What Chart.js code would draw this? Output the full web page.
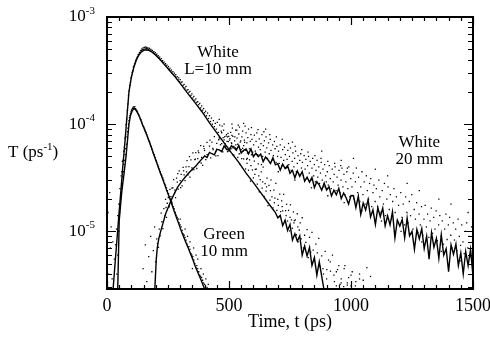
<!DOCTYPE html>
<html><head><meta charset="utf-8">
<script src="https://cdn.jsdelivr.net/npm/chart.js@4.4.0/dist/chart.umd.min.js"></script>
<style>html,body{margin:0;padding:0;background:#fff}</style>
</head><body>
<canvas id="c" width="490" height="348"></canvas>
<script>
// ---- axis ticks ----
const xTickValues = [0, 500, 1000, 1500];
const yTickValues = [1e-5, 1e-4, 1e-3];

// ---- White L=10 mm : solid curve [t (ps), T (ps^-1)] ----
const white10Line = [[25,2.9e-6],[33,5.0e-6],[41,8.5e-6],[49,1.45e-5],[57,2.4e-5],[65,4.1e-5],[74,7.0e-5],[82,1.2e-4],[90,2.0e-4],[100,2.75e-4],[110,3.4e-4],[120,3.95e-4],[130,4.4e-4],[140,4.7e-4],[150,4.88e-4],[160,4.95e-4],[170,4.9e-4],[185,4.7e-4],[200,4.4e-4],[220,3.95e-4],[240,3.5e-4],[260,3.1e-4],[280,2.75e-4],[300,2.4e-4],[330,1.95e-4],[360,1.6e-4],[390,1.3e-4],[420,1.03e-4],[450,8.3e-5],[480,6.7e-5],[510,5.4e-5],[540,4.4e-5],[570,3.5e-5],[600,2.85e-5],[630,2.3e-5],[660,1.85e-5],[690,1.5e-5],[700,1.34e-5],[710,1.41e-5],[720,1.13e-5],[730,1.27e-5],[740,1.02e-5],[750,1.16e-5],[760,8.3e-6],[770,9.5e-6],[780,8.1e-6],[790,9.1e-6],[800,6.0e-6],[810,7.3e-6],[820,5.9e-6],[830,7.1e-6],[840,4.8e-6],[850,5.7e-6],[860,3.9e-6],[870,5.2e-6],[880,3.8e-6],[890,2.8e-6]];

// ---- White L=10 mm : dots ----
const white10Dots = [[4,1.5e-5],[7,4e-6],[11,2.3e-5],[14,7e-6],[17,1.1e-5],[21,3.6e-6],[24,8e-6],[30,5.5e-6],[35,7.5e-6],[39,1.05e-5],[44,1.4e-5],[48,1.8e-5],[53,2.5e-5],
[58,3.3e-5],[61,3.6e-5],[63,4.5e-5],[66,4.6e-5],[68,5.6e-5],[71,6.1e-5],[73,7.4e-5],[76,8.0e-5],[78,9.9e-5],[81,1.12e-4],[83,1.35e-4],[86,1.55e-4],[88,1.85e-4],[91,2.05e-4],[93,2.3e-4],[96,2.45e-4],[98,2.7e-4],[101,2.85e-4],[103,3.05e-4],[106,3.15e-4],[108,3.4e-4],[111,3.5e-4],[113,3.65e-4],[116,3.8e-4],[118,3.95e-4],[121,4.05e-4],[123,4.2e-4],[126,4.3e-4],[128,4.45e-4],[131,4.5e-4],[133,4.65e-4],[136,4.7e-4],[138,4.85e-4],[141,4.9e-4],[143,5.05e-4],[146,4.95e-4],[148,5.15e-4],[151,5.0e-4],[153,5.2e-4],[156,5.05e-4],[158,5.25e-4],[161,5.1e-4],[163,5.2e-4],[166,5.05e-4],[168,5.15e-4],[171,4.98e-4],[174,5.1e-4],[177,4.9e-4],[180,4.98e-4],[183,4.8e-4],[186,4.88e-4],[189,4.68e-4],[192,4.75e-4],[195,4.55e-4],[198,4.65e-4],[201,4.45e-4],[204,4.5e-4],[207,4.3e-4],[210,4.35e-4],[213,4.15e-4],[216,4.22e-4],[219,4.0e-4],[222,4.08e-4],[225,3.85e-4],[228,3.92e-4],[231,3.72e-4],[234,3.8e-4],[237,3.6e-4],[240,3.68e-4],[243,3.48e-4],[246,3.55e-4],[249,3.35e-4],[252,3.45e-4],[255,3.22e-4],[258,3.32e-4],[261,3.12e-4],[264,3.2e-4],[267,3.0e-4],[270,3.1e-4],[273,2.9e-4],[276,3.0e-4],[279,2.8e-4],[282,2.9e-4],[285,2.7e-4],[288,2.78e-4],[291,2.6e-4],[294,2.7e-4],[297,2.5e-4],[300,2.6e-4],[304,2.45e-4],[308,2.48e-4],[312,2.3e-4],[316,2.35e-4],[320,2.18e-4],[324,2.25e-4],[328,2.08e-4],[332,2.1e-4],[336,1.98e-4],[340,2.02e-4],[344,1.86e-4],[348,1.92e-4],[352,1.76e-4],[356,1.82e-4],[360,1.68e-4],[364,1.72e-4],[368,1.6e-4],[372,1.62e-4],[376,1.52e-4],[380,1.56e-4],[384,1.42e-4],[388,1.48e-4],[392,1.35e-4],[396,1.4e-4],[400,1.28e-4],[404,1.32e-4],[408,1.2e-4],[412,1.27e-4],[416,1.13e-4],[420,1.2e-4],[424,1.06e-4],[428,1.14e-4],[432,1.0e-4],[436,1.08e-4],[440,9.5e-5],[444,1.02e-4],[448,9.0e-5],
[452,1.04e-4],[456,8.4e-5],[460,1.11e-4],[464,7.35e-5],[468,8.6e-5],[472,9.6e-5],[476,7.5e-5],[480,1.0e-4],[484,6.6e-5],[488,7.75e-5],[492,6.9e-5],[496,8.2e-5],[500,5.6e-5],[504,7.35e-5],[508,5.9e-5],[512,7.85e-5],[516,6.0e-5],[520,5.15e-5],[524,7.6e-5],[528,6.4e-5],[532,8.8e-5],[536,4.9e-5],[540,6.25e-5],[544,4.24e-5],[548,7.0e-5],[552,4.77e-5],[556,5.96e-5],[560,4.75e-5],[564,6.77e-5],[568,3.82e-5],[572,4.7e-5],[576,5.38e-5],[580,3.72e-5],[584,4.65e-5],[588,2.94e-5],[592,5.19e-5],[596,3.74e-5],[600,3.16e-5],[604,4.53e-5],[608,3.78e-5],[612,3.81e-5],[616,2.76e-5],[620,4.27e-5],[624,2.34e-5],[628,3.04e-5],[632,3.59e-5],[636,2.53e-5],[640,3.98e-5],[644,2.12e-5],[648,2.79e-5],[652,2.37e-5],[656,3.14e-5],[660,1.74e-5],[664,2.68e-5],[668,1.96e-5],[672,3.03e-5],[676,2.1e-5],[680,1.66e-5],[684,2.42e-5],[688,2.04e-5],[692,2.81e-5],[696,1.57e-5],[700,1.99e-5],[704,1.36e-5],[708,2.23e-5],[712,1.53e-5],[716,1.93e-5],[720,1.55e-5],[724,2.21e-5],[728,1.25e-5],[732,1.56e-5],[736,1.79e-5],[740,1.25e-5],[744,1.57e-5],[748,1.01e-5],[752,1.77e-5],[756,1.28e-5],[760,1.07e-5],[764,1.52e-5],[768,1.26e-5],[772,1.28e-5],[776,9.3e-6],[780,1.46e-5],[784,8.0e-6],[788,1.03e-5],[792,1.2e-5],[796,8.5e-6],[800,1.34e-5],[805,7.0e-6],[810,9.2e-6],[815,7.9e-6],[820,1.04e-5],[825,5.7e-6],[830,8.8e-6],[835,6.4e-6],[840,9.8e-6],[845,6.7e-6],[850,5.3e-6],[856,7.6e-6],[862,6.3e-6],[868,8.6e-6],[874,4.7e-6],[880,5.9e-6],[887,4.0e-6],[894,6.5e-6],[901,4.4e-6],[908,5.4e-6],[916,4.25e-6],[924,6.0e-6],[932,3.4e-6],[940,4.2e-6],[950,4.8e-6],[960,3.6e-6],[972,4.5e-6],[985,3.3e-6],[1000,3.9e-6],[1018,3.1e-6],[1035,3.6e-6],
[462,9.8e-5],[478,8.8e-5],[494,7.6e-5],[510,6.7e-5],[526,6.0e-5],[542,5.3e-5],[558,5.6e-5],[574,4.3e-5],[590,4.1e-5],[606,3.4e-5],[622,3.3e-5],[638,2.9e-5],[654,2.6e-5],[670,2.4e-5],[686,1.85e-5],[702,1.75e-5],[718,1.7e-5],[734,1.4e-5],[750,1.35e-5],[766,1.2e-5],[782,1.1e-5],
[885,4.5e-6],[900,3.6e-6],[915,5.2e-6],[930,3.9e-6],[945,4.4e-6],[960,3.3e-6],[975,4.8e-6],[990,3.7e-6],[1005,4.2e-6],[1020,3.4e-6],[1035,4.0e-6],[1050,3.5e-6],[1065,4.6e-6],[1080,3.8e-6],[940,3.1e-6],[955,3.2e-6],[970,3.05e-6],[985,3.15e-6],[1000,3.1e-6]];

// ---- Green 10 mm : solid curve ----
const green10Line = [[44,2.9e-6],[47,6.0e-6],[50,1.25e-5],[55,1.7e-5],[61,2.4e-5],[70,3.5e-5],[78,5.0e-5],[85,7.5e-5],[90,1.0e-4],[96,1.2e-4],[103,1.33e-4],[111,1.4e-4],[118,1.36e-4],[126,1.27e-4],[135,1.15e-4],[145,1.0e-4],[155,8.8e-5],[165,7.7e-5],[176,6.6e-5],[188,5.5e-5],[200,4.6e-5],[215,3.7e-5],[230,3.0e-5],[245,2.4e-5],[260,1.95e-5],[275,1.55e-5],[290,1.25e-5],[305,1.0e-5],[320,8.2e-6],[335,6.8e-6],[350,5.6e-6],[362,4.7e-6],[375,4.0e-6],[388,3.4e-6],[400,2.9e-6]];

// ---- Green 10 mm : dots ----
const green10Dots = [[40,4e-6],[44,6e-6],[48,1.0e-5],[52,1.5e-5],[56,2.0e-5],[60,2.5e-5],[65,3.2e-5],[70,4.2e-5],[75,5.2e-5],[80,6.5e-5],[84,8.5e-5],[88,1.0e-4],[92,1.15e-4],[96,1.25e-4],[100,1.35e-4],[104,1.4e-4],[108,1.45e-4],[112,1.42e-4],[116,1.4e-4],[120,1.35e-4],[125,1.3e-4],[130,1.22e-4],[136,1.12e-4],[142,1.05e-4],[148,9.6e-5],[154,9e-5],[160,8.4e-5],[166,7.6e-5],[172,7.0e-5],[178,6.5e-5],[184,5.9e-5],[190,5.4e-5],[197,4.9e-5],[204,4.4e-5],[211,4.0e-5],[218,3.6e-5],[225,3.3e-5],[232,3.0e-5],[240,2.7e-5],[248,2.4e-5],[256,2.1e-5],[264,1.9e-5],[272,1.7e-5],[280,1.5e-5],[288,1.35e-5],[296,1.2e-5],[304,1.1e-5],[312,9.5e-6],[320,8.8e-6],[328,7.6e-6],[336,7.2e-6],[344,6.2e-6],[352,5.8e-6],[360,5.0e-6],[368,4.8e-6],[376,4.2e-6],[384,3.8e-6],[392,3.5e-6],[400,3.2e-6],[410,3.0e-6],
[62,2.7e-5],[67,3.6e-5],[72,4.6e-5],[77,5.9e-5],[82,7.6e-5],[86,9.2e-5],[90,1.08e-4],[94,1.2e-4],[98,1.3e-4],[102,1.36e-4],[106,1.42e-4],[110,1.39e-4],[114,1.46e-4],[118,1.38e-4],[123,1.33e-4],[128,1.25e-4],[133,1.18e-4],[139,1.1e-4],[145,1.0e-4],[151,9.4e-5],[157,8.6e-5],[163,8.0e-5],[169,7.3e-5],[175,6.8e-5],[181,6.2e-5],[187,5.6e-5],[194,5.2e-5],[201,4.6e-5],[208,4.2e-5],[215,3.8e-5],[222,3.4e-5],[229,3.15e-5],[236,2.8e-5],[244,2.55e-5],[252,2.25e-5],[260,2.0e-5],[268,1.8e-5],[276,1.62e-5],[284,1.42e-5],[292,1.3e-5],[300,1.15e-5],[308,1.02e-5],[316,9.2e-6],[324,8.3e-6],[332,7.2e-6],[340,6.8e-6],[348,6.0e-6],[356,5.4e-6],[364,4.6e-6],[372,4.5e-6],[380,3.9e-6],[388,3.7e-6],[396,3.3e-6],
[340,8e-6],[355,7e-6],[365,6e-6],[350,4.5e-6],[372,5.5e-6],[385,4.5e-6],[395,4e-6],[405,3.6e-6],[415,3.2e-6],[330,9e-6],[320,1.05e-5],[300,1.3e-5]];

// ---- White 20 mm : solid curve ----
const white20Line = [[196,2.9e-6],[199,4.0e-6],[202,5.5e-6],[206,7.0e-6],[212,8.5e-6],[220,1.0e-5],[230,1.2e-5],[240,1.45e-5],[252,1.7e-5],[265,2.0e-5],[278,2.3e-5],[290,2.6e-5],[305,2.9e-5],[320,3.2e-5],[335,3.5e-5],[350,3.8e-5],[365,4.1e-5],[380,4.5e-5],[390,4.75e-5],[400,5.05e-5],[410,4.9e-5],[420,5.46e-5],[430,5.3e-5],[440,5.17e-5],[450,5.82e-5],[460,5.76e-5],[470,5.55e-5],[480,6.26e-5],[490,5.81e-5],[500,5.7e-5],[510,6.28e-5],[520,6.07e-5],[530,5.72e-5],[540,6.32e-5],[550,5.38e-5],[560,5.7e-5],[570,5.88e-5],[580,5.28e-5],[590,5.89e-5],[600,4.98e-5],[610,5.35e-5],[620,4.98e-5],[630,5.27e-5],[640,4.47e-5],[650,4.94e-5],[660,4.64e-5],[670,4.3e-5],[680,4.86e-5],[690,4.18e-5],[700,4.28e-5],[710,3.73e-5],[720,4.24e-5],[730,3.86e-5],[740,4.1e-5],[750,3.48e-5],[760,3.71e-5],[770,3.16e-5],[780,3.66e-5],[790,3.26e-5],[800,3.61e-5],[810,2.94e-5],[820,3.2e-5],[830,2.88e-5],[840,3.18e-5],[850,2.57e-5],[860,2.91e-5],[870,2.7e-5],[880,2.42e-5],[890,2.82e-5],[900,2.43e-5],[910,2.6e-5],[920,2.14e-5],[930,2.42e-5],[940,2.19e-5],[950,2.52e-5],[960,2.02e-5],[970,2.28e-5],[980,2.06e-5],[990,1.8e-5],[1000,2.16e-5],[1010,2.15e-5],[1020,1.67e-5],[1030,2.13e-5],[1040,1.44e-5],[1050,1.84e-5],[1060,1.58e-5],[1070,1.98e-5],[1080,1.36e-5],[1090,1.59e-5],[1100,1.16e-5],[1110,1.66e-5],[1120,1.37e-5],[1130,1.65e-5],[1140,1.13e-5],[1150,1.4e-5],[1160,1.15e-5],[1170,1.52e-5],[1180,8.7e-6],[1190,1.27e-5],[1200,1.12e-5],[1210,1.29e-5],[1220,8.7e-6],[1230,1.33e-5],[1240,9.1e-6],[1250,1.0e-5],[1260,6.8e-6],[1270,1.04e-5],[1280,8.5e-6],[1290,1.06e-5],[1300,6.9e-6],[1310,9.0e-6],[1320,5.5e-6],[1330,9.7e-6],[1340,7.1e-6],[1350,8.6e-6],[1360,5.6e-6],[1370,9.3e-6],[1380,6.0e-6],[1390,6.9e-6],[1400,4.2e-6],[1410,7.5e-6],[1420,6.1e-6],[1430,7.6e-6],[1440,4.8e-6],[1450,6.3e-6],[1460,4.0e-6],[1470,6.5e-6],[1480,4.8e-6],[1490,6.8e-6],[1500,3.8e-6]];

// ---- White 20 mm : dots ----
const white20Dots = [[148,4.5e-6],[157,7.5e-6],[163,3.4e-6],[171,5.8e-6],[179,9e-6],[184,4.2e-6],[190,6.6e-6],[195,1.1e-5],[199,5.2e-6],
[204,8.5e-6],[207,7.7e-6],[211,7.1e-6],[214,1.05e-5],[218,9.1e-6],[222,1.48e-5],[225,1.23e-5],[229,1.06e-5],[233,1.63e-5],[236,1.39e-5],[240,1.99e-5],[244,1.35e-5],[247,1.83e-5],[251,2.07e-5],[255,1.72e-5],[258,2.46e-5],[262,2.11e-5],[266,1.86e-5],[270,2.54e-5],[273,3.04e-5],[277,2.29e-5],[281,2.06e-5],[285,3.14e-5],[288,2.88e-5],[292,2.48e-5],[296,3.67e-5],[300,2.97e-5],[304,3.4e-5],[308,2.66e-5],[312,3.95e-5],[316,3.37e-5],[320,2.98e-5],[324,4.0e-5],[328,4.57e-5],[332,3.37e-5],[336,4.01e-5],[340,3.2e-5],[344,4.64e-5],[348,3.91e-5],[352,5.41e-5],[356,3.76e-5],[360,4.68e-5],[364,5.44e-5],[368,3.86e-5],[372,4.77e-5],[376,5.44e-5],[380,4.46e-5],[384,6.32e-5],[388,4.89e-5],[392,4.12e-5],[396,6.22e-5],[400,5.68e-5],[405,4.68e-5],[410,6.77e-5],[415,5.22e-5],[420,6.24e-5],[425,4.86e-5],[430,6.79e-5],[435,5.8e-5],[440,7.65e-5],[445,5.55e-5],[450,6.61e-5],[455,5.09e-5],[460,7.47e-5],[465,6.43e-5],[470,8.32e-5],[475,5.53e-5],[480,7.14e-5],[485,6.24e-5],[490,8.0e-5],[494,5.54e-5],[497,6.88e-5],[499,7.68e-5],
[242,1.67e-5],[254,1.68e-5],[266,2.53e-5],[278,2.42e-5],[290,3.46e-5],[302,2.56e-5],[314,3.67e-5],[326,3.59e-5],[338,4.98e-5],[350,3.76e-5],[362,4.71e-5],[374,5.65e-5],[386,4.34e-5],[398,5.93e-5],[410,5.2e-5],[422,7.11e-5],[434,5.94e-5],[446,5.06e-5],[458,7.16e-5],[470,6.59e-5],[482,7.63e-5],[494,6.08e-5],
[502,7.1e-5],[505,6.0e-5],[507,8.4e-5],[511,6.6e-5],[514,9.2e-5],[516,7.7e-5],[520,6.2e-5],[523,7.0e-5],[527,8.8e-5],[530,5.9e-5],[533,7.4e-5],[536,6.5e-5],[540,8.1e-5],[543,9.4e-5],[546,6.8e-5],[550,5.8e-5],[553,7.6e-5],[556,8.6e-5],[560,6.3e-5],[563,7.1e-5],[567,5.7e-5],[570,8.3e-5],[573,6.7e-5],[577,7.5e-5],[580,9.0e-5],[584,5.9e-5],[587,6.9e-5],[590,8.0e-5],[594,7.2e-5],[597,5.5e-5],
[601,6.4e-5],[604,7.9e-5],[608,5.6e-5],[611,6.9e-5],[614,8.3e-5],[618,5.2e-5],[621,6.1e-5],[624,7.3e-5],[628,5.8e-5],[631,6.6e-5],[635,8.0e-5],[638,5.0e-5],[641,6.3e-5],[645,7.0e-5],[648,5.5e-5],[652,7.6e-5],[655,6.0e-5],[658,4.8e-5],[662,6.7e-5],[665,5.3e-5],[669,7.2e-5],[672,5.7e-5],[676,4.6e-5],[679,6.4e-5],[682,5.1e-5],[686,6.9e-5],[689,5.9e-5],[693,4.4e-5],[696,6.2e-5],[699,5.0e-5],
[703,5.6e-5],[706,4.3e-5],[710,6.4e-5],[713,4.9e-5],[717,4.1e-5],[720,5.8e-5],[724,4.6e-5],[727,6.1e-5],[731,5.2e-5],[734,3.9e-5],[738,4.7e-5],[741,5.7e-5],[745,4.2e-5],[748,5.0e-5],[752,6.0e-5],[755,3.7e-5],[759,4.5e-5],[762,5.4e-5],[766,4.0e-5],[769,4.8e-5],[773,5.6e-5],[776,3.6e-5],[780,4.3e-5],[783,5.1e-5],[787,3.4e-5],[790,4.6e-5],[794,5.3e-5],[797,3.9e-5],
[801,4.4e-5],[805,3.3e-5],[808,5.1e-5],[812,3.8e-5],[815,4.7e-5],[819,3.1e-5],[822,4.1e-5],[826,5.0e-5],[829,3.5e-5],[833,4.5e-5],[836,3.0e-5],[840,3.9e-5],[843,4.8e-5],[847,3.3e-5],[850,4.2e-5],[854,2.9e-5],[857,3.7e-5],[861,4.6e-5],[864,3.2e-5],[868,4.0e-5],[871,2.8e-5],[875,3.5e-5],[878,4.4e-5],[882,3.0e-5],[885,3.8e-5],[889,2.6e-5],[892,4.2e-5],[896,3.3e-5],[899,2.9e-5],
[903,3.6e-5],[907,2.7e-5],[911,4.1e-5],[915,3.1e-5],[919,2.5e-5],[923,3.8e-5],[927,2.9e-5],[931,3.4e-5],[935,4.0e-5],[939,2.4e-5],[943,3.2e-5],[947,2.7e-5],[951,3.7e-5],[955,2.3e-5],[959,3.0e-5],[963,3.9e-5],[967,2.6e-5],[971,3.4e-5],[975,2.2e-5],[979,2.9e-5],[983,3.6e-5],[987,2.5e-5],[991,4.0e-5],[995,2.1e-5],[999,3.1e-5],
[1004,2.6e-5],[1009,3.5e-5],[1013,2.0e-5],[1018,2.9e-5],[1022,3.9e-5],[1027,2.3e-5],[1031,3.2e-5],[1036,1.9e-5],[1040,2.6e-5],[1045,3.6e-5],[1049,2.2e-5],[1054,2.9e-5],[1058,1.8e-5],[1063,3.3e-5],[1067,2.4e-5],[1072,2.0e-5],[1076,2.8e-5],[1081,3.1e-5],[1085,1.7e-5],[1090,2.3e-5],[1094,2.7e-5],[1099,1.9e-5],
[1104,2.5e-5],[1109,1.7e-5],[1114,3.0e-5],[1118,2.1e-5],[1123,1.5e-5],[1128,2.4e-5],[1133,1.8e-5],[1137,2.8e-5],[1142,1.4e-5],[1147,2.0e-5],[1152,2.6e-5],[1157,1.6e-5],[1161,2.2e-5],[1166,1.3e-5],[1171,1.9e-5],[1176,2.5e-5],[1181,1.5e-5],[1186,2.1e-5],[1190,1.25e-5],[1195,1.75e-5],
[1204,2.3e-5],[1209,1.35e-5],[1214,1.8e-5],[1219,1.15e-5],[1224,2.1e-5],[1229,1.5e-5],[1234,1.2e-5],[1239,1.9e-5],[1244,1.4e-5],[1249,2.2e-5],[1254,1.05e-5],[1259,1.6e-5],[1264,1.3e-5],[1269,1.85e-5],[1274,9.8e-6],[1279,1.45e-5],[1284,1.15e-5],[1289,1.7e-5],[1294,9.2e-6],[1299,1.3e-5],
[1304,1.75e-5],[1309,1.1e-5],[1314,1.45e-5],[1319,8.8e-6],[1324,1.25e-5],[1329,1.65e-5],[1334,9.6e-6],[1339,1.35e-5],[1344,1.05e-5],[1349,1.55e-5],[1354,8.2e-6],[1359,1.15e-5],[1364,1.4e-5],[1369,9.0e-6],[1374,1.25e-5],[1379,7.6e-6],[1384,1.05e-5],[1389,1.45e-5],[1394,8.4e-6],[1399,1.15e-5],
[1404,1.35e-5],[1409,9.2e-6],[1414,7.0e-6],[1419,1.2e-5],[1424,8.3e-6],[1429,1.05e-5],[1434,6.6e-6],[1439,1.3e-5],[1444,9.0e-6],[1449,7.4e-6],[1454,1.15e-5],[1459,8.0e-6],[1464,6.2e-6],[1469,1.0e-5],[1474,1.2e-5],[1479,7.0e-6],[1484,9.0e-6],[1489,5.8e-6],[1494,1.1e-5],[1498,8.0e-6],
[1010,4.8e-5],[1150,3.3e-5],[1280,2.4e-5],[1410,1.8e-5],[1480,1.5e-5],[880,5.6e-5],[760,6.8e-5],[650,9.0e-5],[560,1.02e-4],[960,4.6e-5],[1230,2.8e-5],[1360,2.0e-5],[1100,3.8e-5],
[512,1.0e-4],[538,9.8e-5],[566,9.6e-5],[592,9.3e-5],[619,8.9e-5],[643,8.5e-5],[667,8.0e-5],[694,7.6e-5],[718,7.2e-5],[744,6.6e-5],[771,6.2e-5],[798,5.8e-5],[824,5.5e-5],[852,5.1e-5],[877,4.8e-5],[905,4.5e-5],[933,4.3e-5],[958,4.1e-5],[985,3.9e-5],
[515,5.2e-5],[575,4.8e-5],[633,4.2e-5],[702,3.6e-5],[770,3.0e-5],[838,2.55e-5],[905,2.15e-5],[972,1.85e-5],[1045,1.55e-5],[1125,1.25e-5],[1205,1.0e-5],[1290,8e-6],[1370,6.5e-6],[1450,5.3e-6]];

// ---- text labels ----
const curveLabels = [
  {lines:['White','L=10 mm'], t:455, v:4.7e-4},
  {lines:['White','20 mm'], t:1280, v:6.8e-5},
  {lines:['Green','10 mm'], t:480, v:9.4e-6}
];
const xTitle = 'Time, t (ps)';
const yTitle = ['T (ps', '-1', ')'];

const SERIF = '"Liberation Serif", "Times New Roman", serif';
const toXY = arr => arr.map(p => ({x:p[0], y:p[1]}));
const lineDs = (arr) => ({data: toXY(arr), showLine:true, pointRadius:0, borderColor:'#000', borderWidth:1.4, tension:0, fill:false});
const dotDs = (arr) => ({data: toXY(arr), showLine:false, pointRadius:0.9, pointBorderWidth:0, pointBackgroundColor:'#000', pointStyle:'rect'});

const decor = {
  id:'decor',
  afterDraw(chart){
    const {ctx, chartArea:a, scales:{x, y}} = chart;
    ctx.save();
    ctx.strokeStyle = '#000';
    ctx.lineWidth = 1.2;
    ctx.beginPath();
    for (let t = 0; t <= 1500; t += 50) {
      const px = Math.round(x.getPixelForValue(t)) + 0.5;
      const len = t % 500 === 0 ? 8 : 4;
      ctx.moveTo(px, a.bottom); ctx.lineTo(px, a.bottom - len);
      ctx.moveTo(px, a.top); ctx.lineTo(px, a.top + len);
    }
    for (let e = -6; e <= -3; e++) for (let m = 1; m <= 9; m++) {
      const v = m * Math.pow(10, e);
      if (v < y.min * 0.999 || v > y.max * 1.001) continue;
      const py = Math.round(y.getPixelForValue(v)) + 0.5;
      const len = m === 1 ? 9 : 5;
      ctx.moveTo(a.left, py); ctx.lineTo(a.left + len, py);
      ctx.moveTo(a.right, py); ctx.lineTo(a.right - len, py);
    }
    ctx.stroke();
    ctx.lineWidth = 2;
    ctx.strokeRect(a.left, a.top, a.right - a.left, a.bottom - a.top);

    ctx.fillStyle = '#000';
    ctx.textBaseline = 'middle';
    yTickValues.forEach(v => {
      const py = y.getPixelForValue(v);
      const exp = String(Math.round(Math.log10(v)));
      ctx.font = '11px ' + SERIF;
      const sw = ctx.measureText(exp).width;
      const right = a.left - 12;
      ctx.textAlign = 'left';
      ctx.fillText(exp, right - sw, py - 6);
      ctx.font = '17px ' + SERIF;
      ctx.textAlign = 'right';
      ctx.fillText('10', right - sw, py);
    });
    const ty = (a.top + a.bottom) / 2;
    let tx = 8;
    ctx.textAlign = 'left';
    ctx.font = '17px ' + SERIF;
    ctx.fillText(yTitle[0], tx, ty); tx += ctx.measureText(yTitle[0]).width;
    ctx.font = '11px ' + SERIF;
    ctx.fillText(yTitle[1], tx, ty - 6); tx += ctx.measureText(yTitle[1]).width;
    ctx.font = '17px ' + SERIF;
    ctx.fillText(yTitle[2], tx, ty);
    ctx.textAlign = 'center';
    curveLabels.forEach(l => {
      const px = x.getPixelForValue(l.t), py = y.getPixelForValue(l.v);
      l.lines.forEach((s, i) => ctx.fillText(s, px, py + i * 17.5));
    });
    ctx.restore();
  }
};

new Chart(document.getElementById('c'), {
  type:'scatter',
  data:{datasets:[
    dotDs(white10Dots), dotDs(green10Dots), dotDs(white20Dots),
    lineDs(white10Line), lineDs(green10Line), lineDs(white20Line)
  ]},
  options:{
    responsive:false, animation:false, devicePixelRatio:1,
    layout:{padding:{top:17, right:17, left:0, bottom:0}},
    plugins:{legend:{display:false}, tooltip:{enabled:false}},
    scales:{
      x:{type:'linear', min:0, max:1500,
        afterBuildTicks: s => { s.ticks = xTickValues.map(v => ({value:v})); },
        ticks:{color:'#000', font:{family:SERIF, size:18}, padding:6, maxRotation:0, callback: v => String(v)},
        grid:{display:false, drawTicks:false}, border:{display:false},
        title:{display:true, text:xTitle, color:'#000', font:{family:SERIF, size:18}, padding:{top:0,bottom:15}},
        afterFit: s => { s.height = 59; s.paddingLeft = 0; s.paddingRight = 0; }
      },
      y:{type:'logarithmic', min:2.9e-6, max:1e-3,
        ticks:{display:false},
        grid:{display:false, drawTicks:false}, border:{display:false},
        afterFit: s => { s.width = 107; }
      }
    }
  },
  plugins:[decor]
});
</script>
</body></html>
